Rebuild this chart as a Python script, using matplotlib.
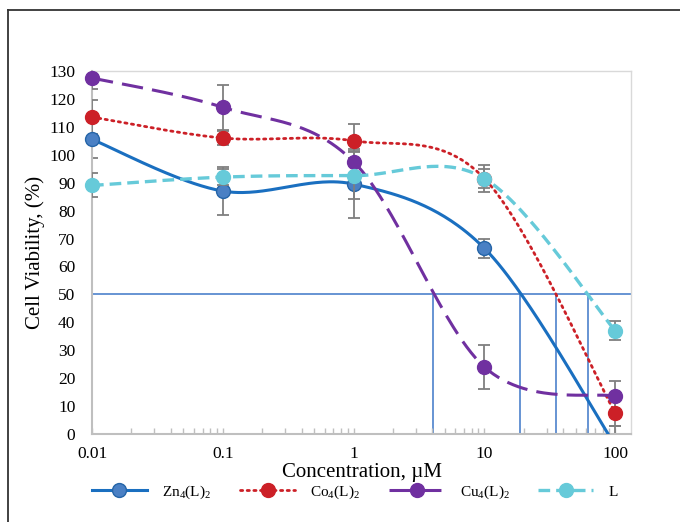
import numpy as np
import matplotlib
matplotlib.use("Agg")
import matplotlib.pyplot as plt
from matplotlib.lines import Line2D

# concentrations (uM) and viability (%)
conc = [0.01, 0.1, 1, 10, 100]
zn = [105.5, 87.0, 89.5, 66.5, -4.0]
zn_err = [6.7, 8.6, 12.0, 3.4, 7.0]
co = [113.5, 106.0, 105.0, 91.5, 7.5]
co_err = [6.0, 2.5, 6.0, 5.0, 4.5]
cu = [127.5, 117.0, 97.5, 24.0, 13.5]
cu_err = [4.0, 8.0, 4.5, 8.0, 5.5]
lig = [89.0, 92.0, 92.5, 91.5, 37.0]
lig_err = [4.3, 3.0, 8.5, 3.5, 3.5]

ic50 = [4.06, 18.8, 35.4, 62.0]
yticks = list(range(0, 131, 10))
xticks = [0.01, 0.1, 1, 10, 100]
xticklabels = ["0.01", "0.1", "1", "10", "100"]
labels = ["Zn$\\mathregular{_4}$(L)$\\mathregular{_2}$",
          "Co$\\mathregular{_4}$(L)$\\mathregular{_2}$",
          "Cu$\\mathregular{_4}$(L)$\\mathregular{_2}$",
          "L"]

plt.rcParams['font.family'] = ['Liberation Serif', 'DejaVu Serif']


def smooth(xs, ys, n=60):
    # excel-like smoothed line (bezier through points, in log-x space)
    pts = np.column_stack([np.log10(xs), ys])
    out = []
    for i in range(len(pts) - 1):
        p0 = pts[max(i - 1, 0)]
        p1 = pts[i]
        p2 = pts[i + 1]
        p3 = pts[min(i + 2, len(pts) - 1)]
        c1 = p1 + (p2 - p0) / 6
        c2 = p2 - (p3 - p1) / 6
        t = np.linspace(0, 1, n)[:, None]
        out.append((1 - t)**3 * p1 + 3 * (1 - t)**2 * t * c1 + 3 * (1 - t) * t**2 * c2 + t**3 * p2)
    seg = np.vstack(out)
    return 10**seg[:, 0], seg[:, 1]


fig = plt.figure(figsize=(6.8, 5.22), dpi=100)
ax = fig.add_axes([92/680, 1 - 434/522, (631 - 92)/680, (434 - 71)/522])

ref = '#5b8bd0'
ax.axhline(50, color=ref, lw=1.3, zorder=1)
for v in ic50:
    ax.plot([v, v], [0, 50], color=ref, lw=1.3, zorder=1)

series = [
    (zn, zn_err, '#1a6fc0', '#4a80c4', '#2565a8', dict(linestyle='-'), 2.2),
    (co, co_err, '#cc2027', '#cc2027', '#cc2027', dict(linestyle=(0, (0.8, 1.6)), dash_capstyle='round'), 2.0),
    (cu, cu_err, '#7030a0', '#7030a0', '#7030a0', dict(linestyle=(0, (7, 3))), 2.2),
    (lig, lig_err, '#66cad9', '#66cad9', '#66cad9', dict(linestyle=(0, (3.5, 1.8))), 2.4),
]

handles = []
for i, (ys, err, lc, fc, ec, ls, lw) in enumerate(series):
    ax.errorbar(conc, ys, yerr=err, fmt='none', ecolor='#7f7f7f', elinewidth=1.3,
                capsize=4, capthick=1.3, zorder=2 + i)
    sx, sy = smooth(conc, ys)
    ax.plot(sx, sy, color=lc, lw=lw, zorder=3 + i, **ls)
    # points below the axis floor stay hidden, the rest may overhang the frame
    px = [x for x, y in zip(conc, ys) if y >= 0]
    py = [y for y in ys if y >= 0]
    ax.plot(px, py, 'o', ms=10, mfc=fc, mec=ec, mew=1.0, zorder=4 + i, clip_on=False)
    handles.append(Line2D([], [], color=lc, lw=lw, marker='o', ms=10, mfc=fc, mec=ec, **ls))

ax.set_xscale('log')
ax.set_xlim(0.01, 132)
ax.set_ylim(0, 130)
ax.set_yticks(yticks)
ax.set_xticks(xticks)
ax.set_xticklabels(xticklabels)
ax.tick_params(axis='y', labelsize=12.5, length=0, pad=12)
ax.tick_params(axis='x', labelsize=12.5, pad=9)
ax.tick_params(axis='x', which='minor', direction='in', length=4, color='#bfbfbf', width=1)
ax.tick_params(axis='x', which='major', direction='in', length=4, color='#bfbfbf', width=1)
ax.xaxis.set_minor_formatter(matplotlib.ticker.NullFormatter())

for s in ['left', 'bottom']:
    ax.spines[s].set_color('#bfbfbf')
    ax.spines[s].set_linewidth(1.5)
for s in ['top', 'right']:
    ax.spines[s].set_color('#d9d9d9')
    ax.spines[s].set_linewidth(1.0)

ax.set_ylabel('Cell Viability, (%)', fontsize=15, labelpad=3)
ax.set_xlabel('Concentration, \u00b5M', fontsize=15, labelpad=0)

fig.legend(handles, labels, loc='center', bbox_to_anchor=(0.522, 1 - 492/522), ncol=4,
           frameon=False, fontsize=11, handlelength=3.6, columnspacing=1.9, handletextpad=1.0)

# outer border (left and top edges visible)
fig.add_artist(Line2D([8/680, 8/680], [0, 1 - 10/522], color='#333333', lw=1.3, transform=fig.transFigure))
fig.add_artist(Line2D([8/680, 1], [1 - 10/522, 1 - 10/522], color='#333333', lw=1.3, transform=fig.transFigure))

fig.savefig('out.png', dpi=100)
